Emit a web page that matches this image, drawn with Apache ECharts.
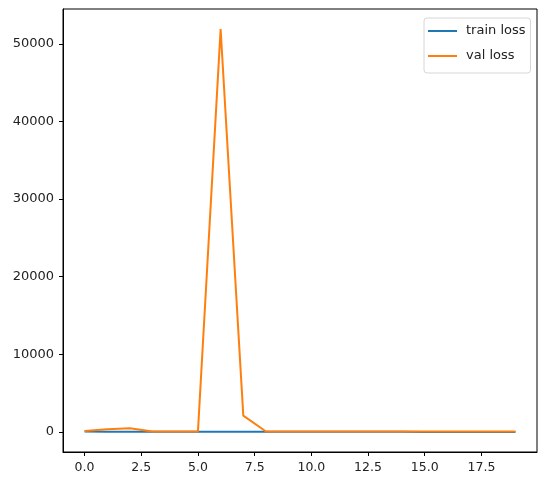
<!DOCTYPE html>
<html><head><meta charset="utf-8">
<script src="https://cdn.jsdelivr.net/npm/echarts@6/dist/echarts.min.js"></script>
<style>html,body{margin:0;padding:0;background:#fff}#c{width:540px;height:481px}</style>
</head><body><div id="c"></div>
<script>
const epochs = [0,1,2,3,4,5,6,7,8,9,10,11,12,13,14,15,16,17,18,19];
const trainLoss = [40,15,10,8,7,6,6,5,5,5,4,4,4,4,4,3,3,3,3,3];
const valLoss = [120,330,480,60,45,40,51900,2100,55,50,48,46,45,44,43,42,42,41,41,40];
const xTicks = [0,2.5,5,7.5,10,12.5,15,17.5];
const yTicks = [0,10000,20000,30000,40000,50000];
const seriesNames = ['train loss','val loss'];

const chart = echarts.init(document.getElementById('c'), null, {renderer:'canvas'});
const font = 'DejaVu Sans';
chart.setOption({
  animation:false,
  backgroundColor:'#fff',
  grid:{left:63, right:3, top:9, bottom:29, show:true, borderColor:'#000', borderWidth:1, backgroundColor:'transparent'},
  xAxis:{type:'value', min:-0.95, max:19.95,
    axisLine:{show:true, onZero:false, lineStyle:{color:'#000', width:1}}, splitLine:{show:false},
    axisTick:{show:true, length:4, customValues:xTicks, lineStyle:{color:'#000', width:1}},
    axisLabel:{color:'#222', fontFamily:font, fontSize:12.5, margin:9, customValues:xTicks,
      formatter:v=>Number(v).toFixed(1)}},
  yAxis:{type:'value', min:-2590, max:54490,
    axisLine:{show:true, onZero:false, lineStyle:{color:'#000', width:1}}, splitLine:{show:false},
    axisTick:{show:true, length:4, customValues:yTicks, lineStyle:{color:'#000', width:1}},
    axisLabel:{color:'#222', fontFamily:font, fontSize:13, margin:9, customValues:yTicks,
      formatter:v=>String(v)}},
  legend:{left:424, top:18, orient:'vertical', itemWidth:29, itemHeight:2, itemGap:7,
    icon:'rect', padding:[4,5,8,4], backgroundColor:'#fff', borderColor:'#d6d6d6', borderWidth:1, borderRadius:3,
    textStyle:{color:'#222', fontFamily:font, fontSize:13, lineHeight:18, padding:[0,0,0,4]},
    data:seriesNames},
  series:[
    {name:seriesNames[0], type:'line', data:epochs.map((e,i)=>[e,trainLoss[i]]), symbol:'none',
      lineStyle:{color:'#1f77b4', width:2}, itemStyle:{color:'#1f77b4'}},
    {name:seriesNames[1], type:'line', data:epochs.map((e,i)=>[e,valLoss[i]]), symbol:'none',
      lineStyle:{color:'#ff7f0e', width:2}, itemStyle:{color:'#ff7f0e'}}
  ]
});
</script></body></html>
